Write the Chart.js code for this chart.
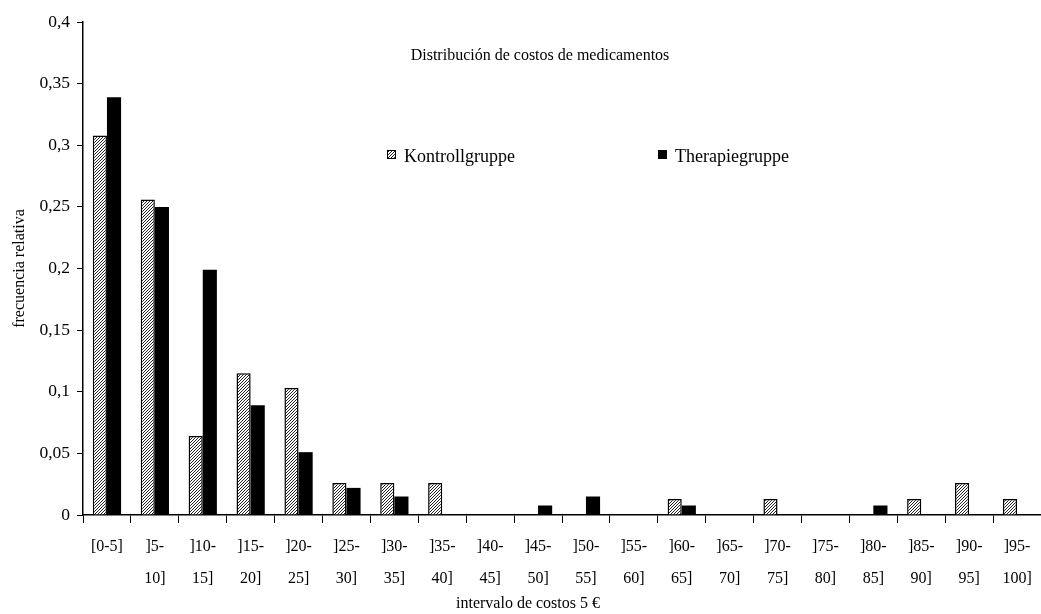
<!DOCTYPE html>
<html>
<head>
<meta charset="utf-8">
<script src="https://cdn.jsdelivr.net/npm/chart.js@4/dist/chart.umd.min.js"></script>
<style>
  html, body { margin: 0; padding: 0; background: #fff; }
  #wrap { width: 1041px; height: 614px; }
</style>
</head>
<body>
<div id="wrap"><canvas id="grafico"></canvas></div>
<script>
// etiquetas de los intervalos (dos líneas)
const intervalos = [
  ['[0-5]'], [']5-', '10]'], [']10-', '15]'], [']15-', '20]'], [']20-', '25]'],
  [']25-', '30]'], [']30-', '35]'], [']35-', '40]'], [']40-', '45]'], [']45-', '50]'],
  [']50-', '55]'], [']55-', '60]'], [']60-', '65]'], [']65-', '70]'], [']70-', '75]'],
  [']75-', '80]'], [']80-', '85]'], [']85-', '90]'], [']90-', '95]'], [']95-', '100]']
];
const kontroll = [0.308, 0.256, 0.064, 0.115, 0.103, 0.026, 0.026, 0.026, 0, 0,
                  0, 0, 0.013, 0, 0.013, 0, 0, 0.013, 0.026, 0.013];
const therapie = [0.339, 0.250, 0.199, 0.089, 0.051, 0.022, 0.015, 0, 0, 0.0077,
                  0.015, 0, 0.0077, 0, 0, 0, 0.0077, 0, 0, 0];
const tituloTexto = 'Distribución de costos de medicamentos';
const tituloX = 'intervalo de costos 5 €';
const fuente = '"Liberation Serif", "Times New Roman", serif';

// patrón rayado para Kontrollgruppe
function rayado() {
  const c = document.createElement('canvas');
  c.width = 3; c.height = 3;
  const g = c.getContext('2d');
  g.fillStyle = '#fff';
  g.fillRect(0, 0, 3, 3);
  g.fillStyle = '#222';
  // diagonal "/" de un píxel
  g.fillRect(2, 0, 1, 1);
  g.fillRect(1, 1, 1, 1);
  g.fillRect(0, 2, 1, 1);
  return g.createPattern(c, 'repeat');
}
const patron = rayado();

// título, leyenda y título del eje x
const textos = {
  id: 'textos',
  afterDraw(chart) {
    const ctx = chart.ctx;
    ctx.save();
    ctx.fillStyle = '#000';
    ctx.textBaseline = 'middle';
    ctx.font = '16px ' + fuente;
    ctx.textAlign = 'center';
    ctx.fillText(tituloTexto, 540, 56);
    ctx.fillText(tituloX, 528, 604);

    ctx.font = '18px ' + fuente;
    ctx.textAlign = 'left';
    // Kontrollgruppe
    ctx.fillStyle = patron;
    ctx.fillRect(387, 150, 9, 9);
    ctx.strokeStyle = '#000';
    ctx.lineWidth = 1;
    ctx.strokeRect(387.5, 150.5, 8, 8);
    ctx.fillStyle = '#000';
    ctx.fillText('Kontrollgruppe', 404, 157);
    // Therapiegruppe
    ctx.fillRect(658, 150, 9, 9);
    ctx.fillText('Therapiegruppe', 675, 157);
    ctx.restore();
  }
};

new Chart(document.getElementById('grafico'), {
  type: 'bar',
  data: {
    labels: intervalos,
    datasets: [
      {
        label: 'Kontrollgruppe',
        data: kontroll,
        backgroundColor: patron,
        borderColor: '#000',
        borderWidth: 1.5,
        barPercentage: 1,
        categoryPercentage: 0.59
      },
      {
        label: 'Therapiegruppe',
        data: therapie,
        backgroundColor: '#000',
        borderColor: '#000',
        borderWidth: 0,
        barPercentage: 1,
        categoryPercentage: 0.59
      }
    ]
  },
  options: {
    responsive: true,
    maintainAspectRatio: false,
    animation: false,
    layout: { padding: { top: 22, right: 0, left: 10, bottom: 0 } },
    plugins: {
      legend: { display: false },
      title: { display: false },
      tooltip: { enabled: false }
    },
    scales: {
      x: {
        grid: { display: true, drawOnChartArea: false, drawTicks: true, tickLength: 8, color: '#000' },
        border: { color: '#000', width: 1.5 },
        ticks: {
          color: '#000',
          font: { family: fuente, size: 16, lineHeight: 2.05 },
          padding: 7,
          maxRotation: 0,
          autoSkip: false
        },
        afterFit(scale) { scale.height = 99; }
      },
      y: {
        min: 0,
        max: 0.4,
        grid: { display: true, drawOnChartArea: false, drawTicks: true, tickLength: 6, color: '#000' },
        border: { color: '#000', width: 1.5 },
        ticks: {
          stepSize: 0.05,
          color: '#000',
          font: { family: fuente, size: 17.5 },
          padding: 7,
          callback: v => (Math.round(v * 100) / 100).toString().replace('.', ',')
        },
        title: {
          display: true,
          text: 'frecuencia relativa',
          color: '#000',
          font: { family: fuente, size: 16 },
          padding: { top: 0, bottom: 4 }
        },
        afterFit(scale) { scale.width = 73; }
      }
    }
  },
  plugins: [textos]
});
</script>
</body>
</html>
